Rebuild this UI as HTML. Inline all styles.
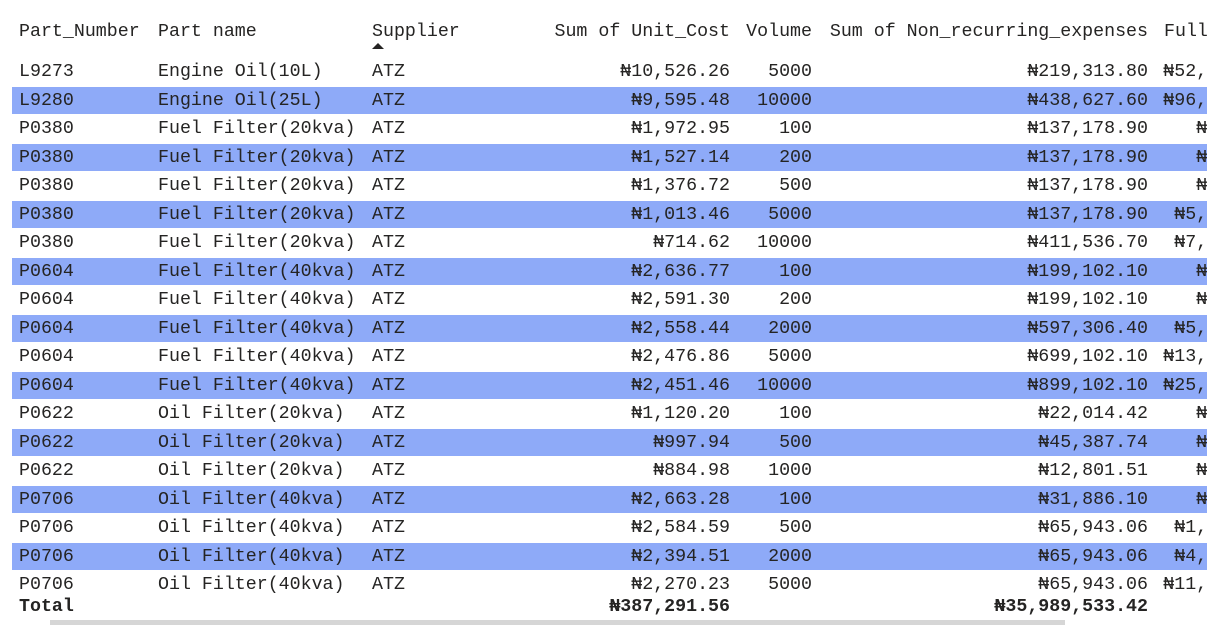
<!DOCTYPE html>
<html><head><meta charset="utf-8">
<style>
html,body{margin:0;width:1207px;height:625px;overflow:hidden}
body{background:#fff;font-family:"Liberation Mono","DejaVu Sans Mono",monospace;font-size:18.3px;color:#252423;position:relative}
.c{position:absolute;white-space:pre;line-height:20px}
.r{text-align:right}
.band{position:absolute;left:12px;width:1195px;height:27px;background:#8eaaf8}
#clip{position:absolute;left:1150px;top:0;width:57px;height:625px;overflow:hidden}
</style></head><body>
<div id="root"></div>
<div class="c" style="left:19px;top:22px">Part_Number</div>
<div class="c" style="left:158px;top:22px">Part name</div>
<div class="c" style="left:372px;top:22px">Supplier</div>
<div style="position:absolute;left:372px;top:43px;width:0;height:0;border-left:6px solid transparent;border-right:6px solid transparent;border-bottom:6px solid #252423"></div>
<div class="c r" style="right:477px;top:22px">Sum of Unit_Cost</div>
<div class="c r" style="right:395px;top:22px">Volume</div>
<div class="c r" style="right:59px;top:22px">Sum of Non_recurring_expenses</div>
<div style="position:absolute;left:50px;top:620px;width:1015px;height:5px;background:#d6d6d6"></div>
<div id="clip">
<div class="c" style="left:14px;top:22px">Full</div>
</div>
<script>
const partNumbers=["L9273","L9280","P0380","P0380","P0380","P0380","P0380","P0604","P0604","P0604","P0604","P0604","P0622","P0622","P0622","P0706","P0706","P0706","P0706"];
const partNames=["Engine Oil(10L)","Engine Oil(25L)","Fuel Filter(20kva)","Fuel Filter(20kva)","Fuel Filter(20kva)","Fuel Filter(20kva)","Fuel Filter(20kva)","Fuel Filter(40kva)","Fuel Filter(40kva)","Fuel Filter(40kva)","Fuel Filter(40kva)","Fuel Filter(40kva)","Oil Filter(20kva)","Oil Filter(20kva)","Oil Filter(20kva)","Oil Filter(40kva)","Oil Filter(40kva)","Oil Filter(40kva)","Oil Filter(40kva)"];
const unitCosts=["₦10,526.26","₦9,595.48","₦1,972.95","₦1,527.14","₦1,376.72","₦1,013.46","₦714.62","₦2,636.77","₦2,591.30","₦2,558.44","₦2,476.86","₦2,451.46","₦1,120.20","₦997.94","₦884.98","₦2,663.28","₦2,584.59","₦2,394.51","₦2,270.23"];
const volumes=["5000","10000","100","200","500","5000","10000","100","200","2000","5000","10000","100","500","1000","100","500","2000","5000"];
const nonRecurring=["₦219,313.80","₦438,627.60","₦137,178.90","₦137,178.90","₦137,178.90","₦137,178.90","₦411,536.70","₦199,102.10","₦199,102.10","₦597,306.40","₦699,102.10","₦899,102.10","₦22,014.42","₦45,387.74","₦12,801.51","₦31,886.10","₦65,943.06","₦65,943.06","₦65,943.06"];
const fullCost=["₦52,632.51","₦96,755.40","₦337.18","₦842.34","₦962.10","₦5,137.18","₦7,146.20","₦462.77","₦617.30","₦5,164.44","₦13,083.40","₦25,414.60","₦134.22","₦544.14","₦897.78","₦297.18","₦1,358.06","₦4,854.96","₦11,416.96"];
const root=document.body;
const clip=document.getElementById('clip');
function cell(txt,style,name,cls,parent){const d=document.createElement('div');d.className='c'+(cls?' '+cls:'');d.textContent=txt;d.style.cssText=style;


(parent||root).appendChild(d);return d;}
for(let i=0;i<partNumbers.length;i++){
 const top=62+i*28.5;
 if(i%2===1){const b=document.createElement('div');b.className='band';b.style.top=(top-4)+'px';
 
 
 root.insertBefore(b,root.firstChild.nextSibling);}
 cell(partNumbers[i],'left:19px;top:'+top+'px','cell-part-number');
 cell(partNames[i],'left:158px;top:'+top+'px','cell-part-name');
 cell('ATZ','left:372px;top:'+top+'px','cell-supplier');
 cell(unitCosts[i],'right:477px;top:'+top+'px','cell-unit-cost','r');
 cell(volumes[i],'right:395px;top:'+top+'px','cell-volume','r');
 cell(nonRecurring[i],'right:59px;top:'+top+'px','cell-non-recurring','r');
 cell(fullCost[i],'right:-66px;top:'+top+'px','cell-full-cost','r',clip);
}
cell('Total','left:19px;top:597px;font-weight:bold','total-label');
cell('₦387,291.56','right:477px;top:597px;font-weight:bold','total-unit-cost','r');
cell('₦35,989,533.42','right:59px;top:597px;font-weight:bold','total-non-recurring','r');
</script>
</body></html>
